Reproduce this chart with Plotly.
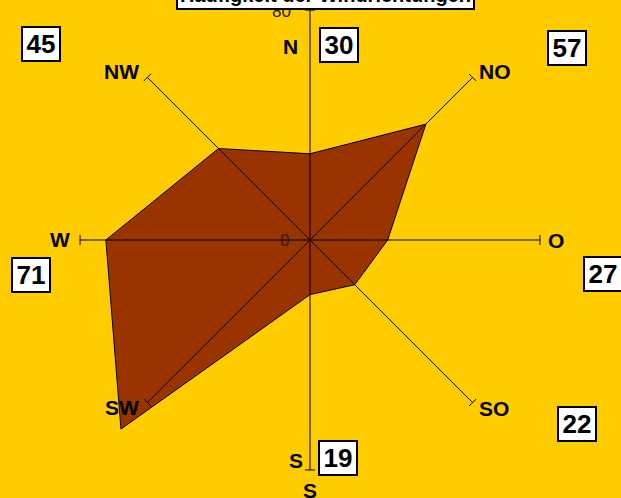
import plotly.graph_objects as go

# ---- data ----
directions = ["N", "NO", "O", "SO", "S", "SW", "W", "NW"]
angles = [0, 45, 90, 135, 180, 225, 270, 315]
values = [30, 57, 27, 22, 19, 93, 71, 45]
radial_range = [0, 80]
radial_ticks = [0, 80]
title_text = "Häufigkeit der Windrichtungen"
extra_label = "S"

# ---- layout helpers ----
W, H = 621, 498
def px(x, y):
    return x / W, 1 - y / H

FONT = "Liberation Sans, Arial, sans-serif"
BG = "#FFCC00"
FILL = "#993300"

fig = go.Figure()

# polygon
fig.add_trace(go.Scatterpolar(
    r=values + values[:1], theta=angles + angles[:1],
    mode="lines", fill="toself", fillcolor=FILL,
    line=dict(color="black", width=1), cliponaxis=False,
    hoverinfo="skip", showlegend=False))

# spokes (axis lines drawn above polygon) with perpendicular end ticks
rmax = radial_range[1]
sr, st = [], []
d = 1.25
for a in angles:
    sr += [0, rmax, None, rmax, rmax, None]
    st += [a, a, None, a - d, a + d, None]
fig.add_trace(go.Scatterpolar(
    r=sr, theta=st, mode="lines", line=dict(color="black", width=1),
    cliponaxis=False, hoverinfo="skip", showlegend=False, connectgaps=False))

# direction label positions (pixels)
label_pos = {"N": (290, 46), "NO": (495, 71), "O": (556, 240), "SO": (494, 408),
             "S": (296, 460), "SW": (122, 407), "W": (60, 239), "NW": (121, 71)}
box_pos = {"N": (339, 45), "NO": (567, 48), "O": (603, 274), "SO": (577, 424),
           "S": (338, 458), "W": (31, 275), "NW": (41, 44)}
radial_label_pos = {0: (284, 240), 80: (281, 11)}

annotations = []
for t in radial_ticks:
    x, y = px(*radial_label_pos[t])
    annotations.append(dict(x=x, y=y, xref="paper", yref="paper", text=str(t),
                            showarrow=False, font=dict(family=FONT, size=17, color="#222"),
                            xanchor="center", yanchor="middle"))
for name in directions:
    x, y = px(*label_pos[name])
    annotations.append(dict(x=x, y=y, xref="paper", yref="paper", text=f"<b>{name}</b>",
                            showarrow=False, font=dict(family=FONT, size=21, color="black"),
                            xanchor="center", yanchor="middle"))
x, y = px(310, 490)
annotations.append(dict(x=x, y=y, xref="paper", yref="paper", text=f"<b>{extra_label}</b>",
                        showarrow=False, font=dict(family=FONT, size=21, color="black"),
                        xanchor="center", yanchor="middle"))
for name, v in zip(directions, values):
    if name not in box_pos:
        continue
    x, y = px(*box_pos[name])
    annotations.append(dict(x=x, y=y, xref="paper", yref="paper", text=f"<b>{v}</b>",
                            showarrow=False, font=dict(family=FONT, size=26, color="black"),
                            xanchor="center", yanchor="middle", bgcolor="white",
                            bordercolor="black", borderwidth=2, borderpad=0,
                            width=36, height=32))
x, y = px(325, 10)
annotations.append(dict(x=x, y=y, xref="paper", yref="paper", text=f"<b>{title_text}</b>",
                        showarrow=False, font=dict(family=FONT, size=20, color="black"),
                        xanchor="center", yanchor="bottom", bgcolor="white",
                        bordercolor="black", borderwidth=2, borderpad=2))

x0, _ = px(80, 0)
x1, _ = px(540, 0)
_, y1 = px(0, 10)
_, y0 = px(0, 470)

fig.update_layout(
    width=W, height=H, margin=dict(l=0, r=0, t=0, b=0),
    paper_bgcolor=BG, plot_bgcolor=BG, showlegend=False,
    annotations=annotations,
    polar=dict(
        domain=dict(x=[x0, x1], y=[y0, y1]),
        bgcolor="rgba(0,0,0,0)",
        angularaxis=dict(direction="clockwise", rotation=90, tickvals=angles,
                         ticktext=directions, showticklabels=False, ticks="",
                         showline=False, showgrid=False),
        radialaxis=dict(range=radial_range, autorange=False, angle=90,
                        showticklabels=False, showline=False, showgrid=False, ticks=""),
    ),
)

post = """
document.body.style.margin = '0';
document.body.style.overflow = 'hidden';
document.querySelectorAll('.polarlayer [clip-path]').forEach(function(e){ e.removeAttribute('clip-path'); });
"""
fig.write_html("out.html", post_script=post, config={"displayModeBar": False})
